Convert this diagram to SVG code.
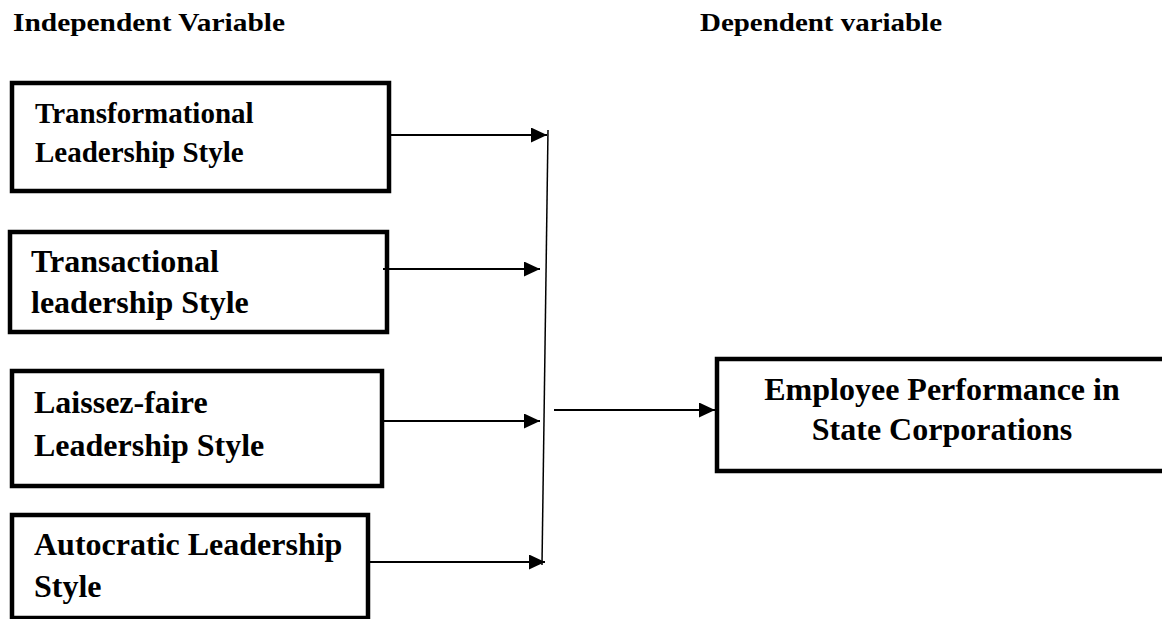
<svg xmlns="http://www.w3.org/2000/svg" width="1162" height="619" viewBox="0 0 1162 619">
<style>
.box{fill:#fff;stroke:#000;stroke-width:4.5}
.t{font-family:"Liberation Serif","Times New Roman",serif;font-weight:bold;fill:#000}
.h{font-size:25px}
.s29{font-size:29px}
.s32{font-size:32px}
.c{stroke:#000;stroke-width:2;fill:none}
.v{stroke:#000;stroke-width:1.5;fill:none}
</style>
<defs>
<marker id="arr" markerUnits="userSpaceOnUse" markerWidth="16" markerHeight="15" refX="16" refY="7.5" orient="auto">
<path d="M0,0 L16,7.5 L0,15 z" fill="#000"/>
</marker>
</defs>
<rect width="1162" height="619" fill="#fff"/>
<g id="headers">
<text class="t h" x="13" y="31" textLength="272" lengthAdjust="spacingAndGlyphs">Independent Variable</text>
<text class="t h" x="700" y="31" textLength="242" lengthAdjust="spacingAndGlyphs">Dependent variable</text>
</g>
<g id="transformational">
<rect class="box" x="12" y="83" width="377" height="108"/>
<text class="t s29" x="35" y="123">Transformational</text>
<text class="t s29" x="35" y="162">Leadership Style</text>
</g>
<g id="transactional">
<rect class="box" x="10" y="232" width="377" height="100"/>
<text class="t s32" x="31" y="272">Transactional</text>
<text class="t s32" x="31" y="313">leadership Style</text>
</g>
<g id="laissez-faire">
<rect class="box" x="12" y="371" width="370" height="115"/>
<text class="t s32" x="34" y="413">Laissez-faire</text>
<text class="t s32" x="34" y="456">Leadership Style</text>
</g>
<g id="autocratic">
<rect class="box" x="12" y="515" width="356" height="103"/>
<text class="t s32" x="34" y="555">Autocratic Leadership</text>
<text class="t s32" x="34" y="597">Style</text>
</g>
<g id="performance">
<rect class="box" x="717" y="359" width="450" height="112"/>
<text class="t s32" x="942" y="400" text-anchor="middle">Employee Performance in</text>
<text class="t s32" x="942" y="440" text-anchor="middle">State Corporations</text>
</g>
<g id="connectors">
<line class="v" x1="548" y1="130" x2="542" y2="565"/>
<line class="c" x1="389" y1="135" x2="547" y2="135" marker-end="url(#arr)"/>
<line class="c" x1="383" y1="269" x2="540" y2="269" marker-end="url(#arr)"/>
<line class="c" x1="384" y1="421" x2="540" y2="421" marker-end="url(#arr)"/>
<line class="c" x1="370" y1="562" x2="545" y2="562" marker-end="url(#arr)"/>
<line class="c" x1="554" y1="410" x2="715" y2="410" marker-end="url(#arr)"/>
</g>
</svg>
